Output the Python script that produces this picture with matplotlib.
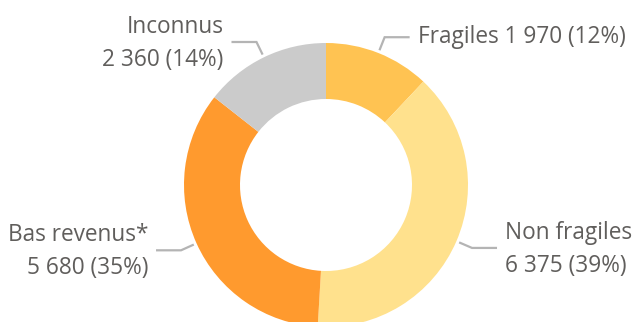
import numpy as np
import matplotlib
matplotlib.use("Agg")
import matplotlib.pyplot as plt

plt.rcParams['font.family'] = ['Open Sans', 'DejaVu Sans']

# Répartition des ménages
categories = ["Fragiles", "Non fragiles", "Bas revenus*", "Inconnus"]
values = [1970, 6375, 5680, 2360]
colors = ["#FFC352", "#FFE18D", "#FF9A2E", "#CBCBCB"]

text_color = "#605E5C"
line_color = "#B4B4B4"


def fmt(v):
    return f"{v:,}".replace(",", " ")


total = sum(values)
pcts = [round(100 * v / total) for v in values]

fig = plt.figure(figsize=(6.34, 3.22), dpi=100)
ax = fig.add_axes([0, 0, 1, 1])

cx, cy, R, ring = 326, 185, 142, 56
wedges, _ = ax.pie(values, colors=colors, startangle=-90, counterclock=True,
                   center=(cx, cy), radius=R,
                   wedgeprops=dict(width=ring, linewidth=0))

ax.set_xlim(0, 634)
ax.set_ylim(322, 0)
ax.set_aspect('equal')
ax.axis('off')

fs = 16.3
# label layout: side (+1 right / -1 left), one or two lines
layout = {
    "Fragiles": dict(side=1, single=True),
    "Non fragiles": dict(side=1, single=False),
    "Bas revenus*": dict(side=-1, single=False),
    "Inconnus": dict(side=-1, single=False),
}

for w, cat, v, p in zip(wedges, categories, values, pcts):
    mid = np.deg2rad((w.theta1 + w.theta2) / 2)
    ux, uy = np.cos(mid), np.sin(mid)
    x0, y0 = cx + (R + 3) * ux, cy + (R + 3) * uy
    x1, y1 = cx + (R + 17) * ux, cy + (R + 17) * uy
    side = layout[cat]["side"]
    x2 = x1 + side * 25
    ax.plot([x0, x1, x2], [y0, y1, y1], color=line_color, lw=1.6,
            solid_capstyle='butt', solid_joinstyle='miter')
    tx = x2 + side * 8
    ha = 'left' if side > 0 else 'right'
    if layout[cat]["single"]:
        ax.text(tx, y1, f"{cat} {fmt(v)} ({p}%)", ha=ha, va='center',
                fontsize=fs, color=text_color)
    else:
        ax.text(tx, y1 - 15, cat, ha=ha, va='center',
                fontsize=fs, color=text_color)
        ax.text(tx, y1 + 18, f"{fmt(v)} ({p}%)", ha=ha, va='center',
                fontsize=fs, color=text_color)

fig.savefig("out.png", dpi=100, facecolor="white")
